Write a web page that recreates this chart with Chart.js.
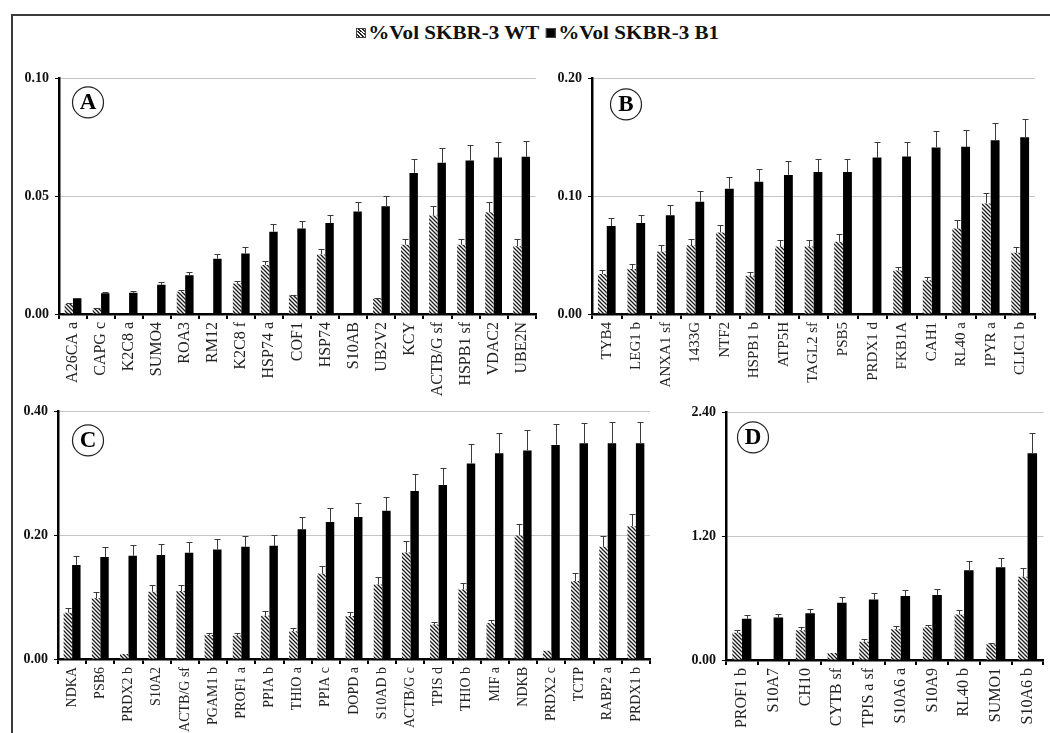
<!DOCTYPE html>
<html><head><meta charset="utf-8">
<script src="https://cdn.jsdelivr.net/npm/chart.js@4.4.1/dist/chart.umd.min.js"></script>
<style>
html,body{margin:0;padding:0;background:#fff;width:1050px;height:733px;overflow:hidden;}
#frame{position:absolute;left:11px;top:14px;width:1100px;height:800px;border-top:2px solid #3a3a3a;border-left:2px solid #3a3a3a;}
canvas{position:absolute;}
#legend{position:absolute;top:23px;left:356px;white-space:nowrap;font:bold 19px "Liberation Serif","Times New Roman",serif;color:#111;line-height:20px;transform:scaleX(1.11);transform-origin:0 0;}
.sw{display:inline-block;width:7px;height:8px;margin-right:2px;vertical-align:1px;border:1px solid #444;}
.hatch{background:repeating-linear-gradient(45deg,#fff 0,#fff 1.2px,#222 1.2px,#222 2.4px);}
.solid{background:#000;margin-left:6px;}
</style></head>
<body>
<div id="frame"></div>
<div id="legend"><span class="sw hatch"></span>%Vol SKBR-3 WT<span class="sw solid"></span>%Vol SKBR-3 B1</div>
<canvas id="cA" width="530" height="340" style="left:14px;top:64px"></canvas>
<canvas id="cB" width="496" height="340" style="left:546px;top:64px"></canvas>
<canvas id="cC" width="646" height="336" style="left:14px;top:397px"></canvas>
<canvas id="cD" width="370" height="335" style="left:680px;top:398px"></canvas>
<script>
// ---- Panel A ----
const aLabels = ['A26CA a','CAPG c','K2C8 a','SUMO4','ROA3','RM12','K2C8 f','HSP74 a','COF1','HSP74','S10AB','UB2V2','KCY','ACTB/G sf','HSPB1 sf','VDAC2','UBE2N'];
const aWT    = [0.0042,0.0025,0,0,0.0094,0,0.0129,0.0208,0.0078,0.0253,0,0.0065,0.0294,0.0418,0.0294,0.0432,0.0288];
const aWTErr = [0.0003,0.0002,0,0,0.0009,0,0.0011,0.0017,0.0004,0.0023,0,0.0004,0.0026,0.0042,0.0026,0.0042,0.0030];
const aB1    = [0.0067,0.0088,0.0090,0.0124,0.0164,0.0235,0.0257,0.0349,0.0363,0.0386,0.0435,0.0457,0.0599,0.0642,0.0651,0.0664,0.0667];
const aB1Err = [0.0002,0.0005,0.0007,0.0012,0.0014,0.0019,0.0026,0.0033,0.0031,0.0035,0.0041,0.0044,0.0061,0.0062,0.0067,0.0065,0.0068];
// ---- Panel B ----
const bLabels = ['TYB4','LEG1 b','ANXA1 sf','1433G','NTF2','HSPB1 b','ATP5H','TAGL2 sf','PSB5','PRDX1 d','FKB1A','CAH1','RL40 a','IPYR a','CLIC1 b'];
const bWT    = [0.0339,0.0383,0.0531,0.0583,0.0692,0.0325,0.0572,0.0572,0.0614,0,0.0369,0.0286,0.0725,0.0939,0.0519];
const bWTErr = [0.0033,0.0039,0.0058,0.0056,0.0066,0.0031,0.0059,0.0053,0.0064,0,0.0031,0.0031,0.0072,0.0092,0.0053];
const bB1    = [0.0747,0.0772,0.0839,0.0953,0.1064,0.1122,0.1181,0.1206,0.1206,0.1328,0.1336,0.1414,0.1419,0.1475,0.1500];
const bB1Err = [0.0072,0.0070,0.0083,0.0094,0.0103,0.0109,0.0116,0.0113,0.0113,0.0130,0.0128,0.0139,0.0139,0.0147,0.0153];
// ---- Panel C ----
const cLabels = ['NDKA','PSB6','PRDX2 b','S10A2','ACTB/G sf','PGAM1 b','PROF1 a','PPIA b','THIO a','PPIA c','DOPD a','S10AD b','ACTB/G c','TPIS d','THIO b','MIF a','NDKB','PRDX2 c','TCTP','RABP2 a','PRDX1 b'];
const cWT    = [0.0747,0.098,0.0079,0.1086,0.1097,0.0387,0.0381,0.0699,0.045,0.1383,0.0694,0.1203,0.1722,0.0556,0.1123,0.0583,0.1997,0.0132,0.1261,0.1812,0.2146];
const cWTErr = [0.0069,0.010,0,0.0106,0.0106,0.0032,0.0038,0.0074,0.0043,0.0122,0.0069,0.0116,0.018,0.0043,0.0111,0.0053,0.0191,0,0.0132,0.018,0.0201];
const cB1    = [0.152,0.1648,0.1669,0.168,0.1717,0.1769,0.1812,0.1828,0.2098,0.2215,0.2294,0.2395,0.2713,0.2813,0.3158,0.3322,0.3369,0.3459,0.3486,0.3486,0.3486];
const cB1Err = [0.0138,0.0159,0.0175,0.0174,0.0169,0.0165,0.0175,0.018,0.0201,0.0217,0.0228,0.0228,0.027,0.0265,0.0317,0.0328,0.0329,0.0334,0.0329,0.0344,0.0344];
// ---- Panel D ----
const dLabels = ['PROF1 b','S10A7','CH10','CYTB sf','TPIS a sf','S10A6 a','S10A9','RL40 b','SUMO1','S10A6 b'];
const dWT    = [0.263,0,0.289,0.067,0.178,0.298,0.317,0.441,0.152,0.808];
const dWTErr = [0.029,0,0.031,0,0.022,0.032,0.025,0.047,0.013,0.083];
const dB1    = [0.399,0.412,0.453,0.555,0.587,0.621,0.631,0.869,0.900,2.004];
const dB1Err = [0.035,0.035,0.045,0.051,0.060,0.061,0.060,0.088,0.086,0.196];
// axis ranges and tick labels
const yMax = {A:0.10, B:0.20, C:0.40, D:2.40};
const yStep = {A:0.05, B:0.10, C:0.20, D:1.20};
const FAMILY = '"Liberation Serif", "Times New Roman", serif';

function makeHatch(){
  const c=document.createElement('canvas'); c.width=4; c.height=4;
  const g=c.getContext('2d');
  g.fillStyle='#fff'; g.fillRect(0,0,4,4);
  g.strokeStyle='#1a1a1a'; g.lineWidth=1.3;
  g.beginPath();
  g.moveTo(-1,-1); g.lineTo(5,5);
  g.moveTo(-1,3); g.lineTo(1,5);
  g.moveTo(3,-1); g.lineTo(5,1);
  g.stroke();
  return g.createPattern(c,'repeat');
}

const errPlugin = {
  id:'errbars',
  afterDatasetsDraw(chart){
    const ctx=chart.ctx, y=chart.scales.y;
    chart.data.datasets.forEach((ds,i)=>{
      if(!ds.errors) return;
      const meta=chart.getDatasetMeta(i);
      meta.data.forEach((bar,j)=>{
        const v=ds.data[j], e=ds.errors[j];
        if(!v||!e) return;
        const top=Math.round(y.getPixelForValue(v+e))+0.5;
        const x=Math.round(bar.x)+0.5;
        ctx.save(); ctx.strokeStyle='#3a3a3a'; ctx.lineWidth=1;
        ctx.beginPath(); ctx.moveTo(x,bar.y); ctx.lineTo(x,top);
        ctx.moveTo(x-3,top); ctx.lineTo(x+3,top); ctx.stroke(); ctx.restore();
      });
    });
  }
};
const letterPlugin = {
  id:'panelLetter',
  afterDraw(chart,args,opts){
    const ctx=chart.ctx, a=chart.chartArea;
    const cx=a.left+opts.dx, cy=a.top+opts.dy;
    ctx.save();
    ctx.strokeStyle='#222'; ctx.lineWidth=1.2;
    ctx.beginPath(); ctx.arc(cx,cy,15.5,0,Math.PI*2); ctx.stroke();
    ctx.fillStyle='#000'; ctx.font='bold 23px '+FAMILY;
    ctx.textAlign='center'; ctx.textBaseline='middle';
    ctx.fillText(opts.text,cx,cy+1);
    ctx.restore();
  }
};

function makeChart(id, key, labels, wt, wtErr, b1, b1Err, yW, xH, padR, dx, dy, lblSize){
  new Chart(document.getElementById(id), {
    type:'bar',
    data:{labels:labels, datasets:[
      {label:'%Vol SKBR-3 WT', data:wt, errors:wtErr, backgroundColor:makeHatch(), borderWidth:0},
      {label:'%Vol SKBR-3 B1', data:b1, errors:b1Err, backgroundColor:'#000', borderWidth:0}
    ]},
    options:{
      responsive:false, animation:false,
      layout:{padding:{left:0,right:padR,top:10,bottom:0}},
      datasets:{bar:{categoryPercentage:0.6, barPercentage:1.0}},
      plugins:{legend:{display:false}, tooltip:{enabled:false},
        panelLetter:{text:key, dx:dx, dy:dy}},
      scales:{
        x:{
          offset:true,
          grid:{offset:true, drawOnChartArea:false, drawTicks:true, tickLength:5, tickColor:'#000', lineWidth:2},
          border:{display:true, color:'#000', width:2.5},
          ticks:{minRotation:90, maxRotation:90, autoSkip:false, padding:3, color:'#222',
            font:{family:FAMILY, size:lblSize}},
          afterFit(s){ s.height=xH; }
        },
        y:{
          min:0, max:yMax[key],
          grid:{color:'#c4c4c4', lineWidth:1, tickColor:'#000', tickLength:4, drawTicks:true},
          border:{display:true, color:'#000', width:2.5},
          ticks:{stepSize:yStep[key], padding:6, color:'#111',
            font:{family:FAMILY, size:14, weight:'bold'},
            callback:(v)=>v.toFixed(2)},
          afterFit(s){ s.width=yW; }
        }
      }
    },
    plugins:[errPlugin, letterPlugin]
  });
}

makeChart('cA','A',aLabels,aWT,aWTErr,aB1,aB1Err,45,90,6,29,24,16);
makeChart('cB','B',bLabels,bWT,bWTErr,bB1,bB1Err,46,90,7,34,26,15);
makeChart('cC','C',cLabels,cWT,cWTErr,cB1,cB1Err,44,74,10,30,29,14);
makeChart('cD','D',dLabels,dWT,dWTErr,dB1,dB1Err,46,73,5,27,25,16);
</script>
</body></html>
